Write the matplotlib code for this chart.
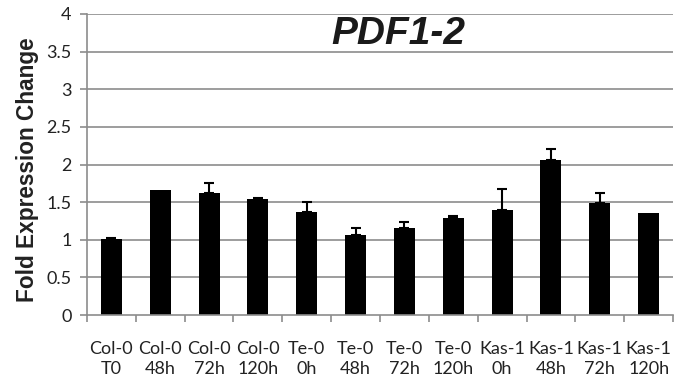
import matplotlib
matplotlib.use("Agg")
import matplotlib.pyplot as plt
import numpy as np

categories = ["Col-0\nT0", "Col-0\n48h", "Col-0\n72h", "Col-0\n120h",
              "Te-0\n0h", "Te-0\n48h", "Te-0\n72h", "Te-0\n120h",
              "Kas-1\n0h", "Kas-1\n48h", "Kas-1\n72h", "Kas-1\n120h"]
values = [1.01, 1.66, 1.625, 1.54, 1.37, 1.06, 1.16, 1.29, 1.40, 2.06, 1.49, 1.35]
errors = [0.01, 0.0, 0.135, 0.02, 0.13, 0.10, 0.07, 0.03, 0.275, 0.15, 0.13, 0.0]
yticks = [0, 0.5, 1, 1.5, 2, 2.5, 3, 3.5, 4]
ytick_labels = ["0", "0.5", "1", "1.5", "2", "2.5", "3", "3.5", "4"]
title = "PDF1-2"
ylabel = "Fold Expression Change"

W, H = 674, 379
fig = plt.figure(figsize=(W/100, H/100), dpi=100)
ax = fig.add_axes([87/W, 1-315/H, (673-87)/W, (315-14)/H])

x = np.arange(len(categories))
vals = np.array(values)
errs = np.array(errors)
grid_c = "#8c8c8c"
for yv in yticks[1:]:
    ax.axhline(yv, color=grid_c, lw=1.2, zorder=0)

ax.bar(x, vals, width=0.43, color="black", zorder=2)
m = errs > 0
ax.errorbar(x[m], vals[m], yerr=[np.zeros(m.sum()), errs[m]], fmt="none",
            ecolor="black", elinewidth=1.5, capsize=3.5, capthick=1.5, zorder=3)

ax.set_xlim(-0.5, len(categories) - 0.5)
ax.set_ylim(0, 4)
ax.set_yticks(yticks)
ax.set_yticklabels(ytick_labels, fontfamily="Lato", fontsize=13, color="#222222")
ax.set_xticks(x)
ax.set_xticklabels(categories, fontfamily="Lato", fontsize=13, color="#222222",
                   linespacing=1.3)
ax.tick_params(axis="x", length=0, pad=19)
ax.set_xticks(np.arange(len(categories) + 1) - 0.5, minor=True)
ax.tick_params(axis="x", which="minor", length=5, color=grid_c, width=1.2)
ax.tick_params(axis="y", length=5, color=grid_c, width=1.2, pad=6)

for s in ["top", "right"]:
    ax.spines[s].set_visible(False)
ax.spines["left"].set_color(grid_c)
ax.spines["left"].set_linewidth(1.2)
ax.spines["bottom"].set_color(grid_c)
ax.spines["bottom"].set_linewidth(1.2)

ax.set_ylabel(ylabel, fontfamily="Liberation Sans", fontweight="bold", fontsize=16.3,
              color="#222222")
ax.yaxis.set_label_coords(-(87 - 39) / (673 - 87), (315 - 170) / (315 - 14))
ax.text(0.531, 0.935, title, transform=ax.transAxes, ha="center", va="center",
        fontfamily="Liberation Sans", fontweight="bold", fontstyle="italic",
        fontsize=28, color="#1a1a1a")

fig.savefig("out.png", dpi=100)
